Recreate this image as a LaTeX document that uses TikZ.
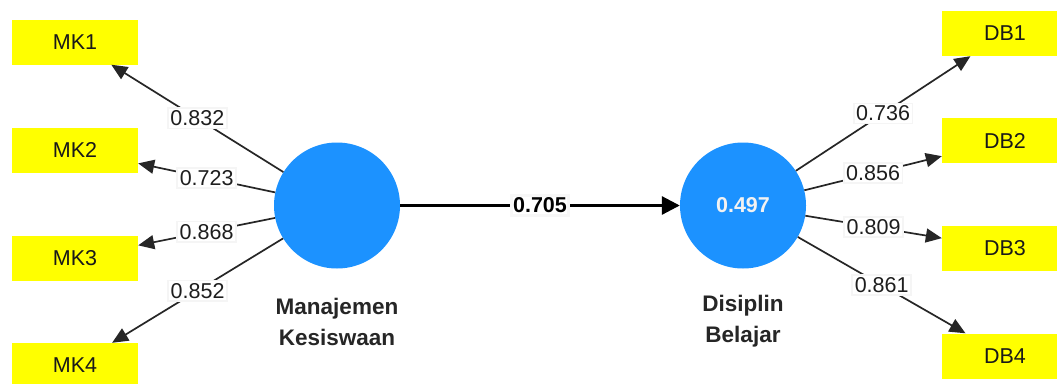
\documentclass[tikz,border=0pt]{standalone}
\usepackage{fontspec}
\setmainfont{Liberation Sans}
\usetikzlibrary{arrows.meta}
\definecolor{lvblue}{RGB}{28,146,255}
\definecolor{indyellow}{RGB}{255,255,0}
\definecolor{labtxt}{RGB}{30,30,30}
\tikzset{
  indbox/.style={fill=indyellow, draw=none, minimum width=126pt, minimum height=45pt, inner sep=0pt, text=black!90, font=\fontsize{21.5}{24}\selectfont},
  latent/.style={circle, fill=lvblue, draw=none, minimum size=126pt, inner sep=0pt},
  lvname/.style={align=center, font=\bfseries\fontsize{22.5}{31}\selectfont, text=black!85},
  loadline/.style={line width=1.7pt, draw=black!85, -{Triangle[length=16pt,width=14pt]}},
  pathline/.style={line width=3pt, draw=black, -{Triangle[length=18pt,width=18pt]}},
  wlabel/.style={fill=white, draw=black!4, inner sep=2.5pt, text=labtxt, font=\fontsize{21.5}{24}\selectfont},
  plabel/.style={fill=white, draw=black!3, inner sep=2pt, text=black, font=\bfseries\fontsize{21.5}{24}\selectfont}
}
\begin{document}
\begin{tikzpicture}[x=1pt,y=-1pt]
\clip (0,0) rectangle (1057,383);
\fill[white] (0,0) rectangle (1057,383);
% indicators
\node[indbox] (mk1) at (75,42) {MK1};
\node[indbox] (mk2) at (75,150) {MK2};
\node[indbox] (mk3) at (75,258) {MK3};
\node[indbox] (mk4) at (75,365.5) {MK4};
\node[indbox] (db1) at (1005,33.5) {DB1};
\node[indbox] (db2) at (1005,140.5) {DB2};
\node[indbox] (db3) at (1005,248.5) {DB3};
\node[indbox] (db4) at (1005,356) {DB4};
% latent variables
\node[latent] (mkv) at (337,205.5) {};
\node[latent, text=white!95!black, font=\bfseries\fontsize{21.5}{24}\selectfont] (dbv) at (743,205.5) {0.497};
\node[lvname] (mkname) at (337,321.5) {Manajemen\\Kesiswaan};
\node[lvname] (dbname) at (743,321.5) {Disiplin\\Belajar};
% loadings
\draw[loadline] (mkv) -- (mk1) node[wlabel, midway] {0.832};
\draw[loadline] (mkv) -- (mk2) node[wlabel, midway] {0.723};
\draw[loadline] (mkv) -- (mk3) node[wlabel, midway] {0.868};
\draw[loadline] (mkv) -- (mk4) node[wlabel, midway] {0.852};
\draw[loadline] (dbv) -- (db1) node[wlabel, midway] {0.736};
\draw[loadline] (dbv) -- (db2) node[wlabel, midway] {0.856};
\draw[loadline] (dbv) -- (db3) node[wlabel, midway] {0.809};
\draw[loadline] (dbv) -- (db4) node[wlabel, midway] {0.861};
% path
\draw[pathline] (mkv) -- (dbv) node[plabel, midway] {0.705};
\end{tikzpicture}
\end{document}
